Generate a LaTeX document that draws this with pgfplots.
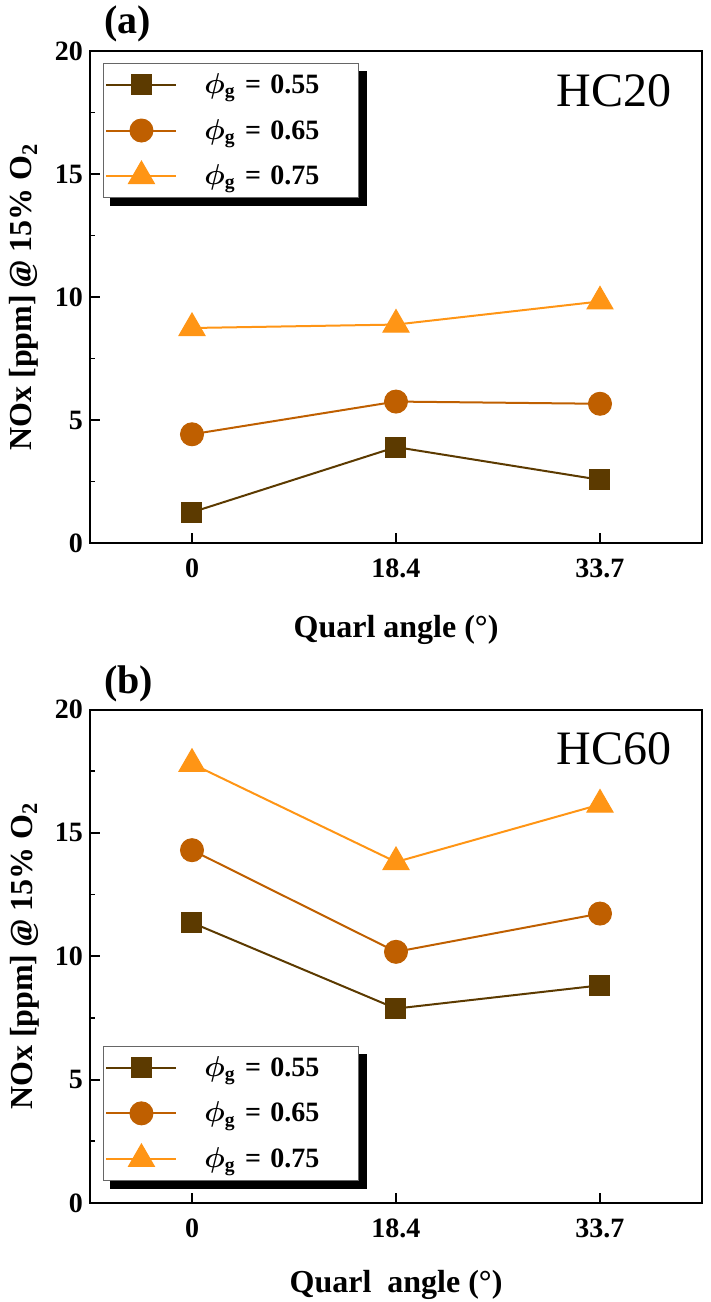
\documentclass[border=0pt]{standalone}
\usepackage{pgfplots}
\pgfplotsset{compat=1.18}
\usepackage{fontspec}
\setmainfont{Liberation Serif}
\definecolor{cA}{HTML}{5C3A00}
\definecolor{cB}{HTML}{BF5F00}
\definecolor{cC}{HTML}{FF9515}
\newcommand{\LE}[1]{\rule[-7.5pt]{0pt}{16pt}{\boldmath$\phi$}\textsubscript{g} = #1}
\pgfplotsset{
  panel/.style={
    scale only axis, width=306pt,
    xmin=-0.5, xmax=2.5, ymin=0, ymax=20,
    xtick={0,1,2}, xticklabels={0,18.4,33.7},
    ytick={0,5,10,15,20}, minor y tick num=1,
    tick pos=left, tick align=inside,
    major tick length=5pt, minor tick length=2.5pt,
    axis line style={line width=1pt}, every tick/.style={line width=0.9pt, black},
    /pgf/number format/assume math mode=true,
    ticklabel style={font=\fontsize{14}{16}\selectfont\bfseries},
    xticklabel style={yshift=-4.5pt},
    every axis y label/.style={at={(axis description cs:0,0.5)}, xshift=-29pt, rotate=90, anchor=base,
      font=\fontsize{16}{19}\selectfont\bfseries},
    ylabel={NOx [ppm] \textit{@} 15\% O\textsubscript{2}},
    legend cell align=left,
    legend image code/.code={\draw[mark repeat=2,mark phase=2] plot coordinates {(0pt,0pt) (17.5pt,0pt) (35pt,0pt)};},
    legend style={draw=black!60, line width=0.6pt, fill=white,
      font=\fontsize{14}{16}\selectfont\bfseries,
      inner xsep=1pt, inner ysep=3pt, row sep=7.3pt,
      /tikz/every odd column/.append style={column sep=11.5pt},
      /tikz/every even column/.append style={text width=74pt, align=left, inner sep=0pt}},
  },
  sA/.style={color=cA, line width=1pt, mark=square*, mark size=5pt, mark options={fill=cA, draw=cA, line width=0.5pt}},
  sB/.style={color=cB, line width=1pt, mark=*, mark size=5.75pt, mark options={fill=cB, draw=cB, line width=0.5pt}},
  sC/.style={color=cC, line width=1pt, mark=triangle*, mark size=7.5pt, mark options={fill=cC, draw=cC, line width=0.5pt}},
}
\begin{document}
\begin{tikzpicture}
\path[use as bounding box] (0,0) rectangle (355.5pt,-651pt);
\begin{axis}[panel, at={(45pt,-271.5pt)}, anchor=south west, height=246pt,
  every axis x label/.style={at={(axis description cs:0.5,0)}, yshift=-47pt, anchor=base,
    font=\fontsize{16}{19}\selectfont\bfseries},
  xlabel={Quarl angle (\textdegree)},
  legend style={at={(axis description cs:0.021,0.976)}, anchor=north west, name=legA}]
\addplot[sA] coordinates {(0,1.25) (1,3.9) (2,2.57)};
\addlegendentry{\LE{0.55}}
\addplot[sB] coordinates {(0,4.42) (1,5.75) (2,5.66)};
\addlegendentry{\LE{0.65}}
\addplot[sC] coordinates {(0,8.74) (1,8.88) (2,9.82)};
\addlegendentry{\LE{0.75}}
\node[anchor=base east, font=\fontsize{24}{28}\selectfont] at (axis description cs:0.961,0.888) {HC20};
\end{axis}
\begin{axis}[panel, at={(45pt,-601.5pt)}, anchor=south west, height=246.75pt,
  every axis x label/.style={at={(axis description cs:0.5,0)}, yshift=-44.5pt, anchor=base,
    font=\fontsize{16}{19}\selectfont\bfseries},
  xlabel={Quarl\ \ angle (\textdegree)},
  legend style={at={(axis description cs:0.021,0.0445)}, anchor=south west, name=legB}]
\addplot[sA] coordinates {(0,11.36) (1,7.88) (2,8.82)};
\addlegendentry{\LE{0.55}}
\addplot[sB] coordinates {(0,14.3) (1,10.18) (2,11.73)};
\addlegendentry{\LE{0.65}}
\addplot[sC] coordinates {(0,17.8) (1,13.82) (2,16.15)};
\addlegendentry{\LE{0.75}}
\node[anchor=base east, font=\fontsize{24}{28}\selectfont] at (axis description cs:0.961,0.888) {HC60};
\end{axis}
\foreach \L in {legA,legB}{
  \fill[black] ([yshift=-4pt]\L.north east) rectangle ([xshift=3.75pt,yshift=-4pt]\L.south east);
  \fill[black] ([xshift=3.75pt]\L.south west) rectangle ([xshift=3.75pt,yshift=-4pt]\L.south east);
}
\node[anchor=base west, font=\fontsize{20}{24}\selectfont\bfseries] at (48.5pt,-16.5pt) {(a)};
\node[anchor=base west, font=\fontsize{20}{24}\selectfont\bfseries] at (48.5pt,-346.5pt) {(b)};
\end{tikzpicture}
\end{document}
